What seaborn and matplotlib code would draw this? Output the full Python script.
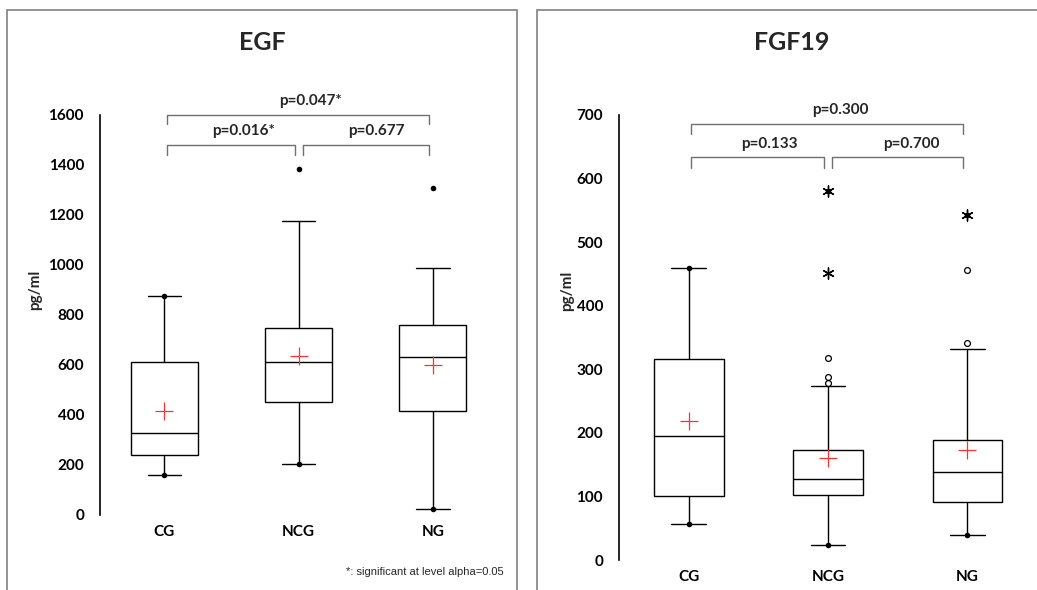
import numpy as np
import pandas as pd
import matplotlib
matplotlib.use('Agg')
import matplotlib.pyplot as plt
import seaborn as sns
from matplotlib.patches import Rectangle

groups = ['CG', 'NCG', 'NG']

# EGF (pg/ml), five-number summaries
egf_min = [161, 206, 26]
egf_q1 = [240, 454, 416]
egf_median = [327, 611, 631]
egf_q3 = [614, 749, 760]
egf_upper_whisker = [875, 1176, 990]
egf_max = [875, 1384, 1310]
egf_mean = [416, 635, 601]
egf_pvalues = ['p=0.016*', 'p=0.677', 'p=0.047*']

# FGF19 (pg/ml)
fgf_min = [57, 24, 39]
fgf_q1 = [101, 102, 92]
fgf_median = [195, 127, 138]
fgf_q3 = [316, 173, 189]
fgf_upper_whisker = [460, 274, 332]
fgf_max = [460, 580, 543]
fgf_mean = [219, 161, 173]
fgf_extreme_groups = ['NCG', 'NCG', 'NG']
fgf_extreme_values = [580, 451, 543]
fgf_mild_groups = ['NCG', 'NCG', 'NCG', 'NG', 'NG']
fgf_mild_values = [318, 288, 279, 456, 342]
fgf_pvalues = ['p=0.133', 'p=0.700', 'p=0.300']

sns.set_style('white')
plt.rcParams['font.family'] = ['Lato', 'DejaVu Sans']

W, H = 1037, 590
fig = plt.figure(figsize=(W / 100, H / 100), dpi=100)


def px_axes(left, right, top, bottom):
    return fig.add_axes([left / W, 1 - bottom / H, (right - left) / W, (bottom - top) / H])


def draw_panel(ax, mins, q1, med, q3, upper, maxs, means, ymax, step, xlim):
    df = pd.DataFrame({'group': np.repeat(groups, 5),
                       'value': np.column_stack([mins, q1, med, q3, upper]).ravel()})
    sns.boxplot(data=df, x='group', y='value', order=groups, ax=ax, width=0.5,
                whis=(0, 100), color='white', linecolor='black', linewidth=1,
                showfliers=False)
    # min / max points
    sns.stripplot(x=groups, y=mins, order=groups, jitter=False, color='black',
                  size=4, linewidth=0, ax=ax)
    sns.stripplot(x=groups, y=maxs, order=groups, jitter=False, color='black',
                  size=4, linewidth=0, ax=ax)
    # means
    sns.stripplot(x=groups, y=means, order=groups, jitter=False, marker='+',
                  color='#ff3030', edgecolor='#ff3030', size=13, linewidth=0.9,
                  ax=ax, zorder=5)
    ax.set_xlim(*xlim)
    ax.set_ylim(0, ymax)
    ax.set_yticks(np.arange(0, ymax + 1, step))
    ax.set_xlabel('')
    ax.set_ylabel('pg/ml', fontsize=11, fontweight='bold', labelpad=6)
    sns.despine(ax=ax, bottom=True)
    ax.spines['left'].set_linewidth(1.2)
    ax.spines['left'].set_color('black')
    ax.tick_params(axis='y', direction='inout', length=9, width=1,
                   color='#555555', pad=7, labelsize=11, labelcolor='black')
    ax.tick_params(axis='x', length=0, pad=7, labelsize=11, labelcolor='black')
    for lab in ax.get_yticklabels() + ax.get_xticklabels():
        lab.set_fontweight('bold')
    ax.patch.set_alpha(0)


def bracket(ax, x0, x1, y, leg, text, tx, ty):
    ax.plot([x0, x0, x1, x1], [y - leg, y, y, y - leg], color='#707070',
            lw=1, clip_on=False)
    ax.text(tx, ty, text, ha='center', va='center', fontsize=11,
            fontweight='bold', clip_on=False)


# left panel: EGF
ax1 = px_axes(100, 512, 115, 515)
draw_panel(ax1, egf_min, egf_q1, egf_median, egf_q3, egf_upper_whisker,
           egf_max, egf_mean, 1600, 200, (-0.48, 2.59))
bracket(ax1, 0.02, 0.97, 1480, 40, egf_pvalues[0], 0.59, 1535)
bracket(ax1, 1.03, 1.97, 1480, 40, egf_pvalues[1], 1.58, 1535)
bracket(ax1, 0.02, 1.97, 1600, 35, egf_pvalues[2], 1.09, 1658)
ax1.yaxis.set_label_coords(-0.14, 0.5625)

# right panel: FGF19
ax2 = px_axes(619, 1037, 115, 560)
draw_panel(ax2, fgf_min, fgf_q1, fgf_median, fgf_q3, fgf_upper_whisker,
           fgf_max, fgf_mean, 700, 100, (-0.5, 2.557))
sns.stripplot(x=fgf_extreme_groups, y=fgf_extreme_values, order=groups,
              jitter=False, marker=(6, 2, 0), color='black', edgecolor='black',
              size=8, linewidth=1, ax=ax2)
sns.stripplot(x=fgf_mild_groups, y=fgf_mild_values, order=groups,
              jitter=False, marker='o', color='white', edgecolor='black',
              size=4.2, linewidth=0.9, ax=ax2)
bracket(ax2, 0.02, 0.97, 634, 17, fgf_pvalues[0], 0.58, 655)
bracket(ax2, 1.03, 1.97, 634, 17, fgf_pvalues[1], 1.60, 655)
bracket(ax2, 0.02, 1.97, 686, 16, fgf_pvalues[2], 1.09, 708)
ax2.yaxis.set_label_coords(-0.108, 0.605)

# titles and footnote
fig.text(262 / W, 1 - 43 / H, 'EGF', ha='center', va='center', fontsize=18,
         fontweight='bold')
fig.text(792 / W, 1 - 43 / H, 'FGF19', ha='center', va='center', fontsize=18,
         fontweight='bold')
fig.text(504 / W, 1 - 572 / H, '*: significant at level alpha=0.05', ha='right',
         va='center', fontsize=8, family=['Liberation Sans', 'DejaVu Sans'])

# panel frames
fig.patches.append(Rectangle((7 / W, -0.05), 510 / W, 1.05 - 10 / H,
                             transform=fig.transFigure, fill=False,
                             edgecolor='#808080', lw=1.2))
fig.patches.append(Rectangle((537 / W, -0.05), 520 / W, 1.05 - 10 / H,
                             transform=fig.transFigure, fill=False,
                             edgecolor='#808080', lw=1.2))

fig.savefig('out.png', dpi=100, facecolor='white')
